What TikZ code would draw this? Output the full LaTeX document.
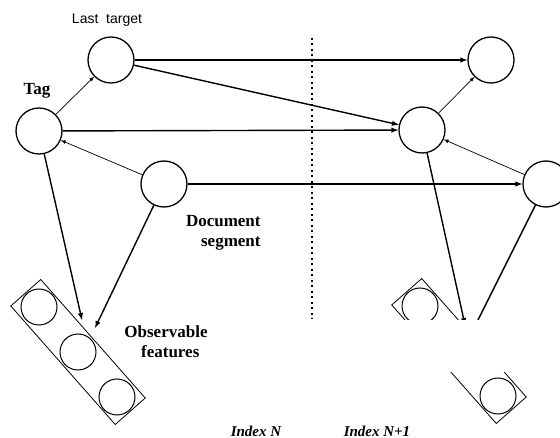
\documentclass[tikz,border=0pt]{standalone}
\usepackage{fontspec}
\setmainfont{Liberation Serif}
\setsansfont{Liberation Sans}
\usetikzlibrary{arrows}

\begin{document}
\begin{tikzpicture}
[x=1pt,y=-1pt,thick,>=latex,%
  every node/.style={inner sep=0pt},%
  state/.style={shape=circle,draw,line width=1.3pt,minimum size=46pt},%
  feat/.style={shape=circle,draw,line width=1pt,minimum size=36pt},%
  group/.style={shape=rectangle,draw,line width=0.8pt,minimum width=158pt,minimum height=40pt,rotate=-48.6},%
  strong/.style={->,line width=1.4pt},%
  weak/.style={->,line width=0.7pt},%
  lbl/.style={font=\fontsize{17}{20}\selectfont\bfseries}]
\useasboundingbox (0,0) rectangle (560,438);
% index N
\node[state] (last) at (111,60) {};
\node[state] (tag) at (39,131) {};
\node[state] (seg) at (164,184) {};
\node[group] (obs) at (78,352) {};
\node[feat] (obs1) at (39,307) {};
\node[feat] (obs2) at (78,352) {};
\node[feat] (obs3) at (117,397) {};
% index N+1
\node[state] (lastB) at (491,60) {};
\node[state] (tagB) at (422,130) {};
\node[state] (segB) at (546,184) {};
\node[group] (obsB) at (459,351) {};
\node[feat] (obsB1) at (420,306) {};
\node[feat] (obsB2) at (459,351) {};
\node[feat] (obsB3) at (498,396) {};
% labels
\node[font=\sffamily\fontsize{14}{16}\selectfont] (lastlbl) at (107,20) {Last\ \ target};
\node[lbl] (taglbl) at (37,91) {Tag};
\node[lbl,align=right,anchor=north east] (seglbl) at (261,215) {Document\\segment};
\node[lbl,align=center] (obslbl) at (166,342) {Observable\\\ \ features};
\node[font=\fontsize{15}{17}\selectfont\bfseries\itshape] (idxN) at (256,431) {Index N};
\node[font=\fontsize{15}{17}\selectfont\bfseries\itshape] (idxB) at (377,431) {Index N+1};
% free ends on the feature boxes
\coordinate (hitA) at (82,320);
\coordinate (hitB) at (95,328);
\coordinate (hitC) at (465,325);
\coordinate (hitD) at (470,336);
\coordinate (sliceT) at (312,38);
\coordinate (sliceB) at (312,319);
\draw[line width=1.2pt,dash pattern=on 2pt off 3.5pt] (sliceT) -- (sliceB);
\path
(tag) edge[weak] (last)
(seg) edge[weak] (tag)
(tagB) edge[weak] (lastB)
(segB) edge[weak] (tagB)
(last) edge[strong] (lastB)
(last) edge[strong] (tagB)
(tag) edge[strong] (tagB)
(seg) edge[strong] (segB)
(tag) edge[strong] (hitA)
(seg) edge[strong] (hitB)
(tagB) edge[strong] (hitC)
(segB) edge[strong] (hitD);
% lost part of the scan
\fill[white] (380,320) rectangle (560,372);
\end{tikzpicture}
\end{document}
